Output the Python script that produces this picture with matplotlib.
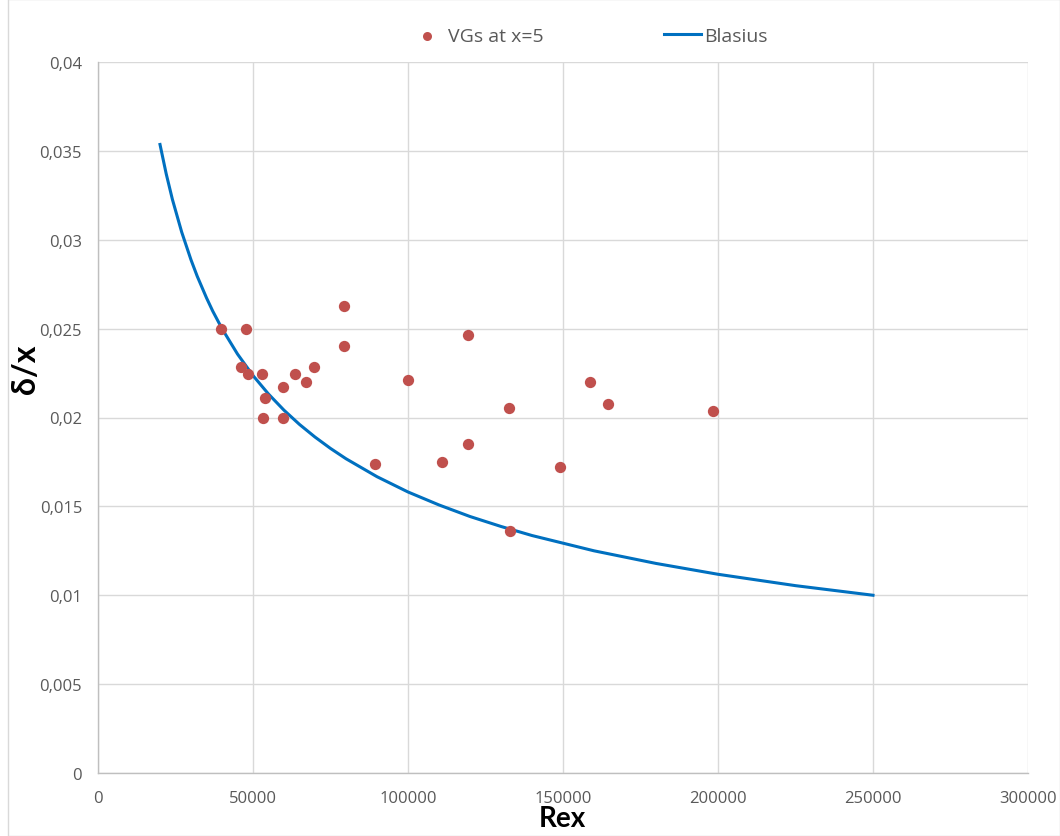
import matplotlib
matplotlib.use("Agg")
import matplotlib.pyplot as plt
from matplotlib.ticker import FuncFormatter
from matplotlib.patches import Rectangle

# Measured boundary-layer thickness with vortex generators
vg_rex = [39600, 47600, 79500, 79500, 46000, 48500, 52800, 63500, 69800,
          67100, 59600, 53900, 53300, 59600, 89400, 100000, 111100, 119300,
          119300, 132500, 132900, 149000, 158700, 164600, 198300]
vg_delta = [0.0250, 0.0250, 0.02625, 0.0240, 0.02283, 0.02246, 0.02246,
            0.02246, 0.02283, 0.02198, 0.02169, 0.02108, 0.0200, 0.0200,
            0.0174, 0.0221, 0.01749, 0.02462, 0.01852, 0.02052, 0.01363,
            0.01719, 0.02198, 0.02075, 0.02037]

# Blasius laminar curve, sampled along Rex
blasius_rex = [20000, 22000, 24000, 27000, 30000, 32000, 35000, 37000, 40000,
               45000, 50000, 55000, 60000, 65000, 70000, 75000, 80000, 90000,
               100000, 110000, 120000, 130000, 140000, 160000, 180000, 200000,
               225000, 250000]
blasius_delta = [0.03536, 0.03371, 0.03227, 0.03043, 0.02887, 0.02795,
                 0.02673, 0.02599, 0.02500, 0.02357, 0.02236, 0.02132,
                 0.02041, 0.01961, 0.01890, 0.01826, 0.01768, 0.01667,
                 0.01581, 0.01508, 0.01443, 0.01387, 0.01336, 0.01250,
                 0.01179, 0.01118, 0.01054, 0.01000]

x_ticks = [0, 50000, 100000, 150000, 200000, 250000, 300000]
y_ticks = [0, 0.005, 0.01, 0.015, 0.02, 0.025, 0.03, 0.035, 0.04]

plt.rcParams['font.family'] = ['Open Sans', 'DejaVu Sans']

W, H = 1060, 837
fig = plt.figure(figsize=(W / 100, H / 100), dpi=100)
fig.patch.set_facecolor('white')

# light frame around the chart area
fig.patches.append(Rectangle((8 / W, 0), (W - 8) / W, 1, transform=fig.transFigure,
                             fill=False, edgecolor='#d9d9d9', linewidth=1.0))

ax = fig.add_axes([98 / W, 1 - 774 / H, (1028 - 98) / W, (774 - 63) / H])

grid_c = '#d9d9d9'
ax.scatter(vg_rex, vg_delta, s=66, color='#c0504d', zorder=3,
           label='VGs at x=5', linewidths=0)
ax.plot(blasius_rex, blasius_delta, color='#0070c0', linewidth=2.2,
        zorder=2, label='Blasius', solid_joinstyle='round')

ax.set_xlim(0, 300000)
ax.set_ylim(0, 0.04)
ax.set_xticks(x_ticks)
ax.set_yticks(y_ticks)
ax.xaxis.set_major_formatter(FuncFormatter(lambda v, p: f"{int(v)}"))
ax.yaxis.set_major_formatter(
    FuncFormatter(lambda v, p: ("0" if v == 0 else f"{v:.3f}".rstrip('0')).replace('.', ',')))

ax.grid(True, color=grid_c, linewidth=1.0)
ax.set_axisbelow(True)
for side in ['top', 'right']:
    ax.spines[side].set_visible(False)
for side in ['left', 'bottom']:
    ax.spines[side].set_color('#bfbfbf')
    ax.spines[side].set_linewidth(1.0)
ax.tick_params(axis='both', length=0, colors='#595959', labelsize=12)
ax.tick_params(axis='x', pad=12)
ax.tick_params(axis='y', pad=11.5)

fig.text(562 / W, 1 - 819 / H, 'Rex', ha='center', va='center',
         fontsize=20, fontweight='bold', color='black',
         family=['Lato', 'DejaVu Sans'])
fig.text(25 / W, 1 - 369 / H, 'δ/x', ha='center', va='center', rotation=90,
         fontsize=23, fontweight='bold', color='black',
         family=['Lato', 'DejaVu Sans'])

leg = fig.legend(loc='center', bbox_to_anchor=(588 / W, 1 - 37 / H), ncol=2,
                 frameon=False, fontsize=14, labelcolor='#595959',
                 handlelength=1.9, handletextpad=0.15, columnspacing=6.2,
                 markerscale=0.8)

fig.savefig('out.png', dpi=100)
